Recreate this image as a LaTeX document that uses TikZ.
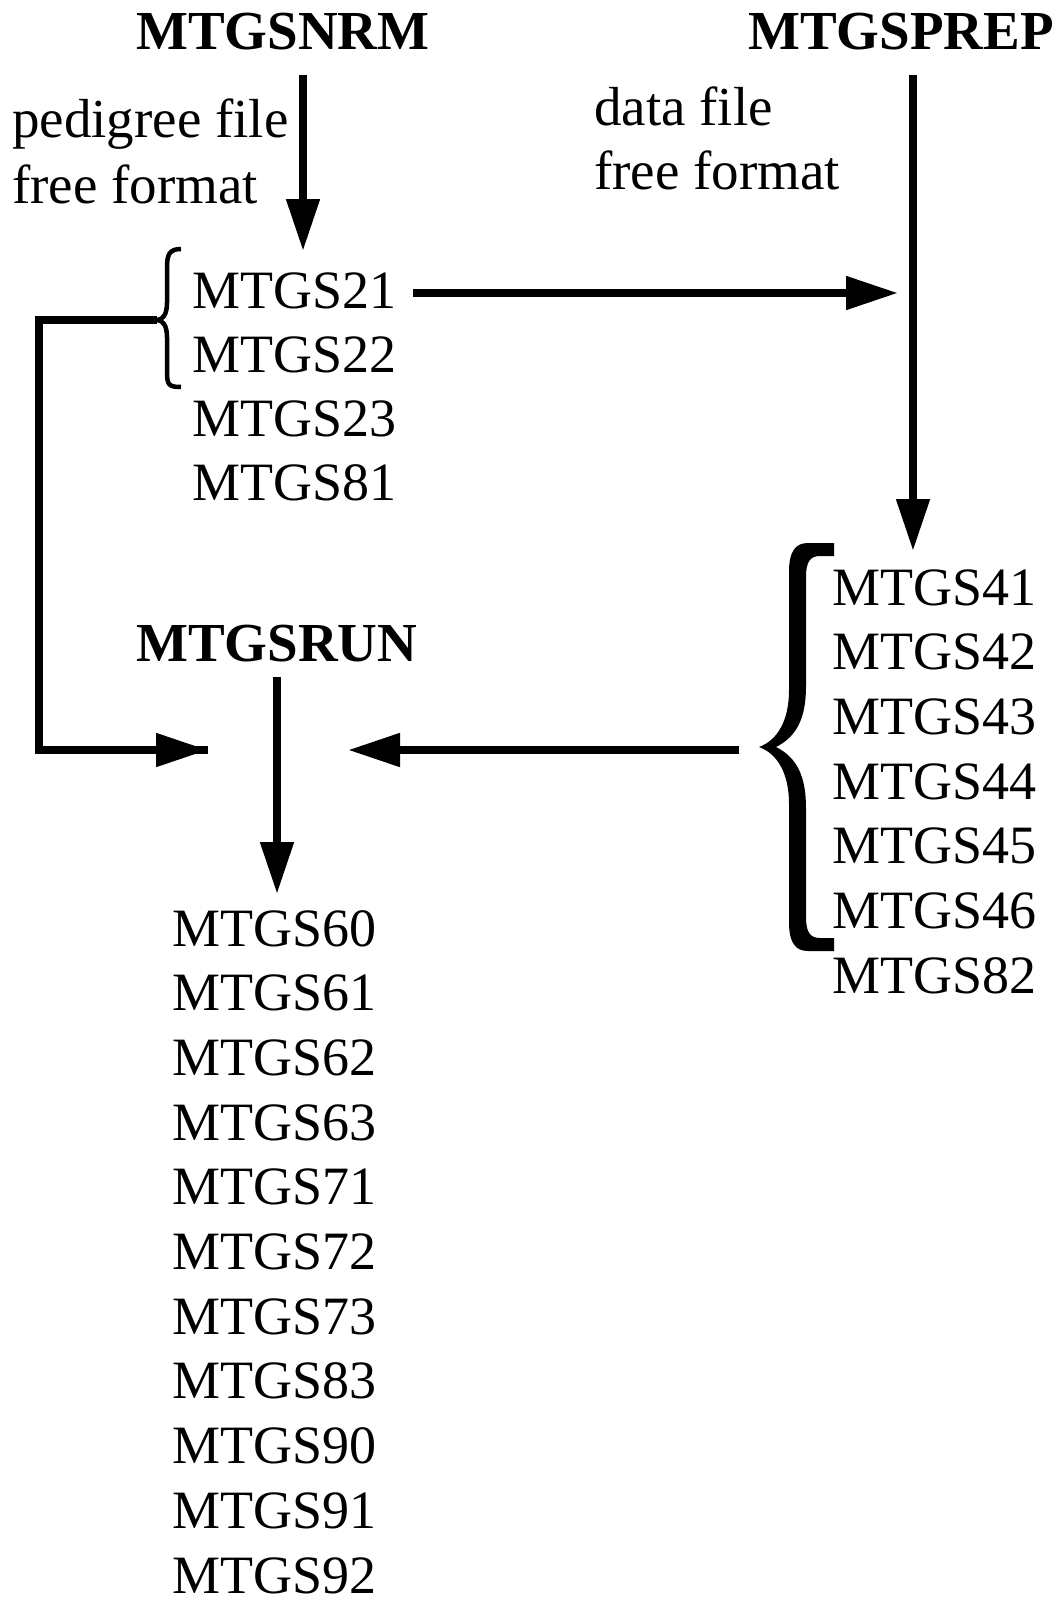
\documentclass[tikz,border=0pt]{standalone}
\usepackage{fontspec}
\setmainfont{Liberation Serif}
\usetikzlibrary{arrows.meta}
\begin{document}
\begin{tikzpicture}[x=1pt,y=-1pt,
  lbl/.style={anchor=base west,inner sep=0pt,font=\fontsize{54pt}{65pt}\selectfont},
  item/.style={lbl,text depth=0pt},
  note/.style={lbl,font=\fontsize{55pt}{66pt}\selectfont},
  ttl/.style={anchor=base west,inner sep=0pt,font=\fontsize{55pt}{66pt}\selectfont\bfseries},
  conn/.style={line width=8pt,-{Triangle[length=52pt,width=32pt]}},
  plain/.style={line width=8pt,line join=miter}]
\useasboundingbox (0,0) rectangle (1058,1606);
% titles
\node[ttl] (nrm) at (136,49) {MTGSNRM};
\node[ttl] (prep) at (748,49) {MTGSPREP};
\node[ttl] (run) at (136,661) {MTGSRUN};
% labels
\node[note] (ped1) at (12,137) {pedigree file};
\node[note] (ped2) at (12,203) {free format};
\node[note] (dat1) at (594,125) {data file};
\node[note] (dat2) at (594,189) {free format};
% list 1
\node[item] (s21) at (192,308) {MTGS21};
\node[item] (s22) at (192,372) {MTGS22};
\node[item] (s23) at (192,436) {MTGS23};
\node[item] (s81) at (192,500) {MTGS81};
% list 2
\foreach \t [count=\i from 0] in {41,42,43,44,45,46,82}
  \node[item] (s\t) at (832,605+64.7*\i) {MTGS\t};
% list 3
\foreach \t [count=\i from 0] in {60,61,62,63,71,72,73,83,90,91,92}
  \node[item] (s\t) at (172,946+64.7*\i) {MTGS\t};
% coordinates
\coordinate (nrmA) at (303,75);
\coordinate (nrmB) at (303,251);
\coordinate (prepA) at (913,75);
\coordinate (prepB) at (913,551);
\coordinate (hA) at (413,293);
\coordinate (hB) at (898,293);
\coordinate (btip) at (157,320);
\coordinate (lc1) at (39,320);
\coordinate (lc2) at (39,750);
\coordinate (lB) at (208,750);
\coordinate (rA) at (739,750);
\coordinate (rB) at (348,750);
\coordinate (runA) at (277,677);
\coordinate (runB) at (277,894);
% connectors
\draw[conn] (nrmA) -- (nrmB);
\draw[conn] (prepA) -- (prepB);
\draw[conn] (hA) -- (hB);
\draw[plain] (btip) -- (lc1) -- (lc2) -- (lB);
\draw[conn] (lc2) -- (lB);
\draw[conn] (rA) -- (rB);
\draw[conn] (runA) -- (runB);
% small brace
\draw[line width=4.5pt] (181,249) .. controls (169,249) and (167,255) .. (167,268) -- (167,303)
  .. controls (167,314) and (163,320) .. (btip)
  .. controls (163,320) and (167,326) .. (167,337) -- (167,372)
  .. controls (167,385) and (169,387) .. (181,387);
% big brace
\fill (834,543) -- (808,543) .. controls (795,543) and (789,552) .. (789,572) -- (789,690)
  .. controls (789,720) and (778,740) .. (759,747)
  .. controls (778,754) and (789,774) .. (789,804) -- (789,922)
  .. controls (789,942) and (795,951) .. (808,951) -- (834,951) -- (834,938) -- (820,938)
  .. controls (810,938) and (806,932) .. (806,917) -- (806,808)
  .. controls (806,778) and (798,758) .. (776,747)
  .. controls (798,736) and (806,716) .. (806,686) -- (806,577)
  .. controls (806,562) and (810,556) .. (820,556) -- (834,556) -- cycle;
\end{tikzpicture}
\end{document}
